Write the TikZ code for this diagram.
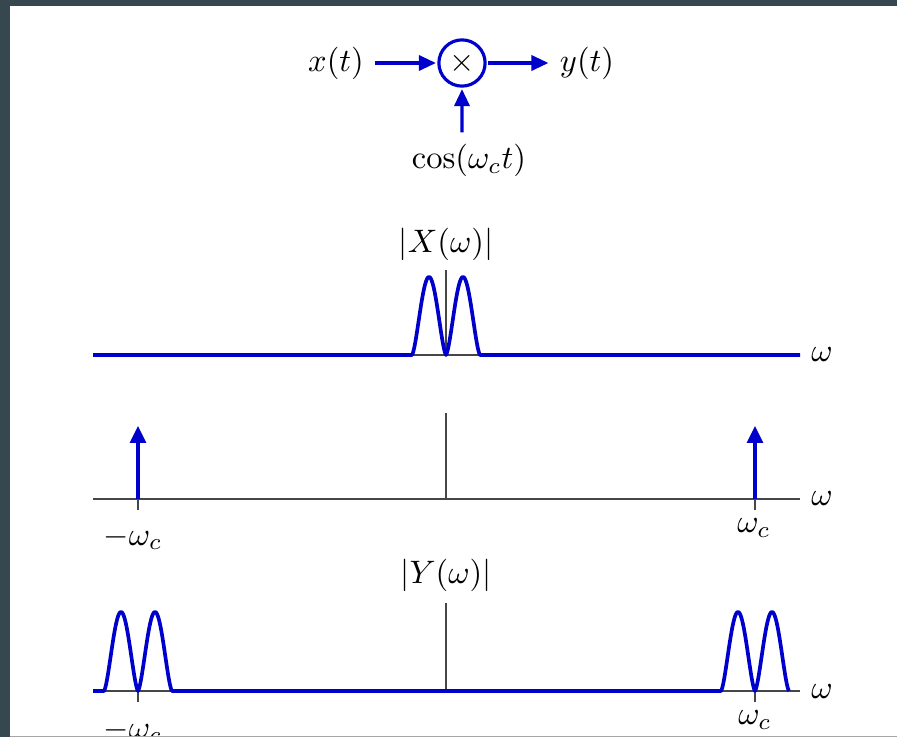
\documentclass[tikz,border=0pt]{standalone}
\usepackage{amsmath}
\usepackage{xcolor}
\usepackage{tikz}
\usetikzlibrary{positioning,shapes,arrows.meta}
\definecolor{sigblue}{RGB}{0,0,204}
\definecolor{axisgray}{RGB}{70,70,70}
\definecolor{slate}{RGB}{54,71,79}
\tikzset{
    lbl/.style={scale=1.85, text=black},
    mixer/.style={circle, draw=sigblue, line width=1.8pt, minimum size=0.5cm, inner sep=0pt, scale=1.85},
    sig/.style={sigblue, line width=1.9pt, -{Triangle[length=0.34cm, width=0.3cm]}},
    impulse/.style={sigblue, line width=1.9pt, -{Triangle[length=0.34cm, width=0.32cm]}},
    spec/.style={sigblue, line width=2.1pt, line join=round},
    axis/.style={axisgray, line width=1pt}
}

\begin{document}
\begin{tikzpicture}[x=0.02cm, y=-0.02cm]
    \useasboundingbox (0,0) rectangle (897,737);
    \clip (0,0) rectangle (897,737);
    \fill[white] (0,0) rectangle (897,737);

    % modulator
    \node[lbl] (xin) at (336,63) {$x(t)$};
    \node[mixer] (mult) at (462,63) {$\times$};
    \node[lbl] (yout) at (587,63) {$y(t)$};
    \node[lbl] (carrier) at (469,160) {$\cos(\omega_c t)$};
    \draw[sig] (xin) -- (mult);
    \draw[sig] (mult) -- (yout);
    \draw[sig] (carrier.north -| mult) -- (mult);

    % |X(w)|
    \coordinate (xl) at (93,355);
    \coordinate (xr) at (800,355);
    \coordinate (xtop) at (446,270);
    \node[lbl] (xmag) at (446,244) {$|X(\omega)|$};
    \node[lbl, right=0pt of xr] (xw) {$\omega$};
    \draw[axis] (xl) -- (xr);
    \draw[axis] (xtop) -- (xtop |- xl);
    \draw[spec] (xl) -- (412,355)
        -- plot[domain=412:480, samples=101] (\x, {355-78*pow(abs(sin(180*(\x-412)/34)),1.5)})
        -- (xr);

    % carrier spectrum
    \coordinate (cl) at (93,499);
    \coordinate (cr) at (800,499);
    \coordinate (ctop) at (446,413);
    \coordinate (imp1) at (138,426);
    \coordinate (imp2) at (755,426);
    \node[lbl, right=0pt of cr] (cw) {$\omega$};
    \node[lbl] (cneg) at (133,538) {$-\omega_c$};
    \node[lbl] (cpos) at (754,528) {$\omega_c$};
    \draw[axis] (cl) -- (cr);
    \draw[axis] (ctop) -- (ctop |- cl);
    \draw[axis] (imp1 |- cl) -- ++(0,11);
    \draw[axis] (imp2 |- cl) -- ++(0,11);
    \draw[impulse] (imp1 |- cl) -- (imp1);
    \draw[impulse] (imp2 |- cl) -- (imp2);

    % |Y(w)|
    \coordinate (yl) at (93,691);
    \coordinate (yr) at (800,691);
    \coordinate (ytop) at (446,603);
    \node[lbl] (ymag) at (446,575) {$|Y(\omega)|$};
    \node[lbl, right=0pt of yr] (yw) {$\omega$};
    \node[lbl] (yneg) at (133,731) {$-\omega_c$};
    \node[lbl] (ypos) at (755,720) {$\omega_c$};
    \draw[axis] (yl) -- (yr);
    \draw[axis] (ytop) -- (ytop |- yl);
    \draw[axis] (138,691) -- ++(0,11);
    \draw[axis] (755,691) -- ++(0,11);
    \draw[spec] (yl) -- (104,691)
        -- plot[domain=104:172, samples=101] (\x, {691-79*pow(abs(sin(180*(\x-104)/34)),1.5)})
        -- (721,691)
        -- plot[domain=721:789, samples=101] (\x, {691-79*pow(abs(sin(180*(\x-721)/34)),1.5)});

    % page frame
    \fill[slate] (0,0) rectangle (897,6);
    \fill[slate] (0,0) rectangle (10,737);
    \fill[white] (10,736) rectangle (897,737);
    \draw[black!35, line width=0.5pt] (10,736) -- (897,736);
\end{tikzpicture}
\end{document}
